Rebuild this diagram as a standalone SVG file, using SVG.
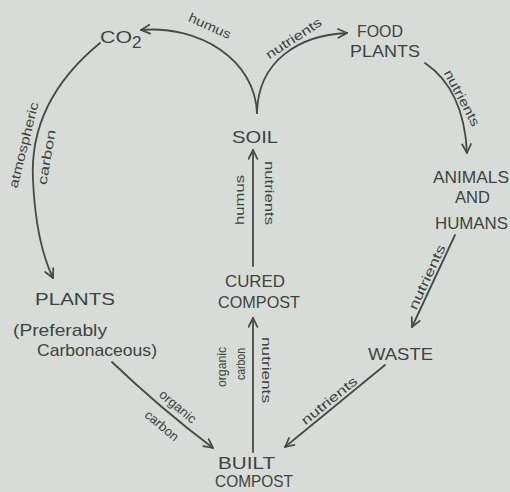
<svg xmlns="http://www.w3.org/2000/svg" width="510" height="492" viewBox="0 0 510 492">
<style>
.n{font-family:"Liberation Sans","DejaVu Sans",sans-serif;font-size:17px;fill:#3e4440}
.s{font-family:"Liberation Sans","DejaVu Sans",sans-serif;font-size:13px;fill:#3e4440}
.c{fill:none;stroke:#454b47;stroke-width:1.8;stroke-linecap:round;marker-end:url(#ah)}
</style>
<defs>
<marker id="ah" viewBox="0 0 10 10" refX="9" refY="5" markerWidth="11" markerHeight="11" markerUnits="userSpaceOnUse" orient="auto">
<path d="M1,1 L9,5 L1,9" fill="none" stroke="#454b47" stroke-width="1.6" stroke-linecap="round" stroke-linejoin="round"/>
</marker>
</defs>
<rect width="510" height="492" fill="#d7dcd8"/>
<g id="connectors">
<path class="c" d="M257 113 C255 60 200 25 141 30"/>
<path class="c" d="M257 113 C258 60 300 35 347 33"/>
<path class="c" d="M425 63 C450 80 465 110 467 153"/>
<path class="c" d="M100 43 C55 80 30 125 33 180 C35 225 42 255 53 278"/>
<path class="c" d="M455 235 L412 327"/>
<path class="c" d="M385 365 L285 447"/>
<path class="c" d="M112 362 Q160 408 213 448"/>
<path class="c" d="M253 452 L253 318"/>
<path class="c" d="M253 266 L253 150"/>
<g id="connector-labels">
<text class="s" transform="translate(208,30) rotate(24)" text-anchor="middle" textLength="45" lengthAdjust="spacingAndGlyphs">humus</text>
<text class="s" transform="translate(296,42) rotate(-33)" text-anchor="middle" textLength="64" lengthAdjust="spacingAndGlyphs">nutrients</text>
<text class="s" transform="translate(458,100) rotate(62)" text-anchor="middle" textLength="62" lengthAdjust="spacingAndGlyphs">nutrients</text>
<text class="s" transform="translate(28,146) rotate(-76)" text-anchor="middle" textLength="88" lengthAdjust="spacingAndGlyphs">atmospheric</text>
<text class="s" transform="translate(51,158) rotate(-80)" text-anchor="middle" textLength="56" lengthAdjust="spacingAndGlyphs">carbon</text>
<text class="s" transform="translate(244,200) rotate(-90)" text-anchor="middle" textLength="50" lengthAdjust="spacingAndGlyphs">humus</text>
<text class="s" transform="translate(265,193) rotate(90)" text-anchor="middle" textLength="64" lengthAdjust="spacingAndGlyphs">nutrients</text>
<text class="s" transform="translate(226,367) rotate(-90)" text-anchor="middle" font-size="11" textLength="40" lengthAdjust="spacingAndGlyphs">organic</text>
<text class="s" transform="translate(245,364) rotate(-90)" text-anchor="middle" font-size="11" textLength="32" lengthAdjust="spacingAndGlyphs">carbon</text>
<text class="s" transform="translate(262,370) rotate(90)" text-anchor="middle" textLength="66" lengthAdjust="spacingAndGlyphs">nutrients</text>
<text class="s" transform="translate(431,279) rotate(-65)" text-anchor="middle" textLength="70" lengthAdjust="spacingAndGlyphs">nutrients</text>
<text class="s" transform="translate(332,404) rotate(-39)" text-anchor="middle" textLength="68" lengthAdjust="spacingAndGlyphs">nutrients</text>
<text class="s" transform="translate(175,410) rotate(40)" text-anchor="middle" textLength="44" lengthAdjust="spacingAndGlyphs">organic</text>
<text class="s" transform="translate(159,429) rotate(40)" text-anchor="middle" textLength="40" lengthAdjust="spacingAndGlyphs">carbon</text>
</g>
</g>
<g id="co2">
<text class="n" x="100" y="43" font-size="23" textLength="32" lengthAdjust="spacingAndGlyphs">CO</text>
<text class="n" x="132" y="48" font-size="12">2</text>
</g>
<g id="food-plants">
<text class="n" x="357" y="37" textLength="46" lengthAdjust="spacingAndGlyphs">FOOD</text>
<text class="n" x="350" y="57" textLength="70" lengthAdjust="spacingAndGlyphs">PLANTS</text>
</g>
<g id="animals-humans">
<text class="n" x="433" y="183" textLength="76" lengthAdjust="spacingAndGlyphs">ANIMALS</text>
<text class="n" x="455" y="203" textLength="35" lengthAdjust="spacingAndGlyphs">AND</text>
<text class="n" x="435" y="229" textLength="73" lengthAdjust="spacingAndGlyphs">HUMANS</text>
</g>
<g id="soil">
<text class="n" x="232" y="143" textLength="46" lengthAdjust="spacingAndGlyphs">SOIL</text>
</g>
<g id="cured-compost">
<text class="n" x="225" y="287" font-size="16" textLength="60" lengthAdjust="spacingAndGlyphs">CURED</text>
<text class="n" x="218" y="308" font-size="16" textLength="82" lengthAdjust="spacingAndGlyphs">COMPOST</text>
</g>
<g id="waste">
<text class="n" x="368" y="360" textLength="65" lengthAdjust="spacingAndGlyphs">WASTE</text>
</g>
<g id="built-compost">
<text class="n" x="218" y="469" font-size="16" textLength="57" lengthAdjust="spacingAndGlyphs">BUILT</text>
<text class="n" x="215" y="487" font-size="16" textLength="78" lengthAdjust="spacingAndGlyphs">COMPOST</text>
</g>
<g id="plants">
<text class="n" x="35" y="305" font-size="18" textLength="80" lengthAdjust="spacingAndGlyphs">PLANTS</text>
<text class="n" x="13" y="336" font-size="16" textLength="94" lengthAdjust="spacingAndGlyphs">(Preferably</text>
<text class="n" x="37" y="356" font-size="16" textLength="120" lengthAdjust="spacingAndGlyphs">Carbonaceous)</text>
</g>
</svg>
